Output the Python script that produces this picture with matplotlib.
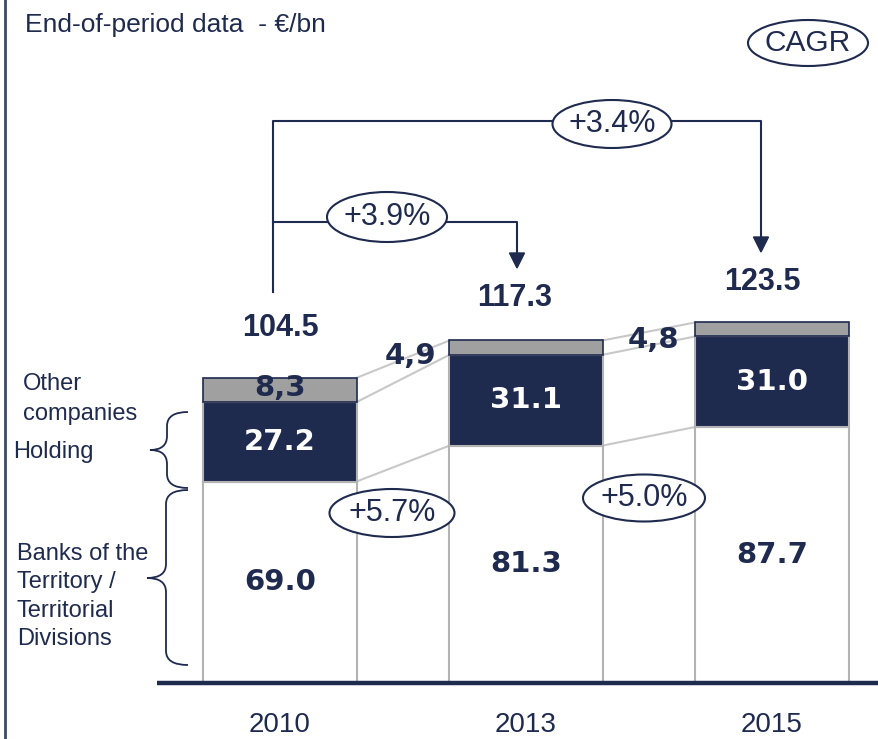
import matplotlib
matplotlib.use('Agg')
import matplotlib.pyplot as plt
import matplotlib.transforms as mtransforms
from matplotlib.patches import Ellipse, PathPatch, Polygon
from matplotlib.path import Path

years = ['2010', '2013', '2015']
banks = [69.0, 81.3, 87.7]
holding = [27.2, 31.1, 31.0]
other = [8.3, 4.9, 4.8]
totals = [104.5, 117.3, 123.5]
seg_cagr = ['+5.7%', '+5.0%']
top_cagr = ['+3.9%', '+3.4%']

NAVY = '#1f2a4f'
GRAY = '#a0a0a0'
EDGE = '#b3b3b3'
LINK = '#c8c8c8'
SANS = 'Liberation Sans'
BOLD = 'DejaVu Sans'

fig = plt.figure(figsize=(8.79, 7.39), dpi=100)
ax = fig.add_axes([0, 0, 1, 1])
ax.set_xlim(-280 / 246, (879 - 280) / 246)
ax.set_ylim(-56 / 2.92, 683 / 2.92)
ax.axis('off')

# slide pixel coords (x right, y down) for the annotation shapes
pix = mtransforms.Affine2D().scale(1 / 879, -1 / 739).translate(0, 1) + fig.transFigure

x = list(range(len(years)))
w = 0.622
mid = [b + h for b, h in zip(banks, holding)]
top = [m + o for m, o in zip(mid, other)]

ax.bar(x, banks, w, color='white', edgecolor=EDGE, lw=1.5, zorder=3)
ax.bar(x, holding, w, bottom=banks, color=NAVY, edgecolor=EDGE, lw=1.5, zorder=3)
ax.bar(x, other, w, bottom=mid, color=GRAY, edgecolor=NAVY, lw=1.2, zorder=3)

# thin links between the bars
for lv in [banks, mid, top]:
    for i in range(len(years) - 1):
        ax.plot([i + w / 2, i + 1 - w / 2], [lv[i], lv[i + 1]], color=LINK, lw=1.5, zorder=1)

# value labels
for i in x:
    ax.text(i, banks[i] / 2, f'{banks[i]:.1f}', ha='center', va='center',
            color=NAVY, fontsize=21, fontweight='bold', family=BOLD, zorder=5)
    ax.text(i, banks[i] + holding[i] / 2, f'{holding[i]:.1f}', ha='center', va='center',
            color='white', fontsize=21, fontweight='bold', family=BOLD, zorder=5)

other_dx = [0, -0.47, -0.48]
other_dy = [0.7, -2.9, -3.6]
for i in x:
    ax.text(i + other_dx[i], mid[i] + other[i] / 2 + other_dy[i], f'{other[i]:.1f}'.replace('.', ','),
            ha='center', va='center', color=NAVY, fontsize=21, fontweight='bold', family=BOLD, zorder=5)

tot_dx = [0, -0.048, -0.04]
tot_dy = [17.2, 14.5, 13.8]
for i in x:
    ax.text(i + tot_dx[i], totals[i] + tot_dy[i], f'{totals[i]:.1f}', ha='center', va='center',
            color=NAVY, fontsize=22, fontweight='bold', family=SANS, zorder=5)

for i in x:
    ax.text(i, -18.7, years[i], ha='center', va='bottom', color=NAVY, fontsize=20, family=SANS)

# baseline and left frame
ax.plot([157, 879], [683, 683], color=NAVY, lw=3.2, transform=pix, zorder=4, solid_capstyle='butt')
ax.plot([5, 5], [0, 739], color='#3b4868', lw=2, transform=pix)

# title
ax.text(25, 32, 'End-of-period data  - €/bn', transform=pix, ha='left', va='baseline',
        color=NAVY, fontsize=19, family=SANS)


def oval(cx, cy, ew, eh, label, size=22):
    ax.add_patch(Ellipse((cx, cy), ew, eh, transform=pix, facecolor='white',
                         edgecolor=NAVY, lw=1.5, zorder=6))
    ax.text(cx, cy, label, transform=pix, ha='center', va='center', color=NAVY,
            fontsize=size, family=SANS, zorder=7)


def arrow_line(pts):
    xs, ys = zip(*pts)
    ax.plot(xs, ys, color=NAVY, lw=1.5, transform=pix, zorder=5)
    tx, ty = pts[-1]
    ax.add_patch(Polygon([(tx - 7.5, ty), (tx + 7.5, ty), (tx, ty + 15)], closed=True,
                         transform=pix, color=NAVY, zorder=5))


arrow_line([(273, 292), (273, 121), (761, 121), (761, 237)])
arrow_line([(273, 222), (517, 222), (517, 253)])

oval(808, 43, 120, 46, 'CAGR', size=21.5)
oval(612, 124, 119, 48, top_cagr[1])
oval(387, 217, 120, 50, top_cagr[0])
oval(392, 513, 125, 48, seg_cagr[0])
oval(644, 498, 122, 47, seg_cagr[1])


def brace(xe, xm, xt, yt, yc, yb, r=14):
    verts = [(xe, yt), (xm, yt), (xm, yt + r),
             (xm, yc - r), (xm, yc), (xt, yc),
             (xm, yc), (xm, yc + r),
             (xm, yb - r), (xm, yb), (xe, yb)]
    codes = [Path.MOVETO, Path.CURVE3, Path.CURVE3,
             Path.LINETO, Path.CURVE3, Path.CURVE3,
             Path.CURVE3, Path.CURVE3,
             Path.LINETO, Path.CURVE3, Path.CURVE3]
    ax.add_patch(PathPatch(Path(verts, codes), transform=pix, facecolor='none',
                           edgecolor=NAVY, lw=1.3))


brace(188, 167, 150, 412, 450, 488)
brace(188, 166, 147, 490, 578, 665)

left_labels = [('Other', 23, 390), ('companies', 23, 420), ('Holding', 13, 458),
               ('Banks of the', 17, 560), ('Territory /', 17, 588),
               ('Territorial', 17, 617), ('Divisions', 17, 645)]
for txt, lx, ly in left_labels:
    ax.text(lx, ly, txt, transform=pix, ha='left', va='baseline', color=NAVY,
            fontsize=17, family=SANS)

fig.savefig('out.png', dpi=100)
